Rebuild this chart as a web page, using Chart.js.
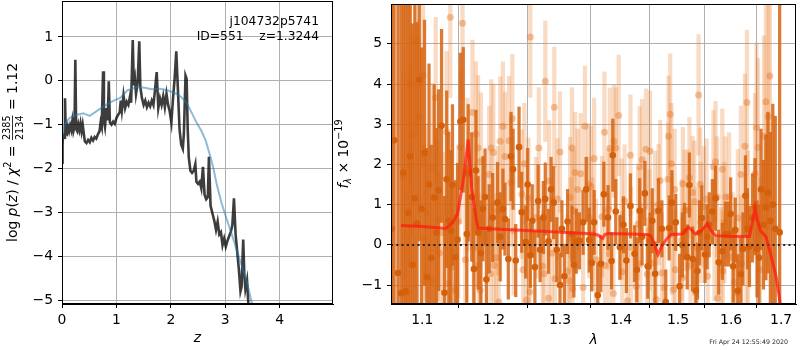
<!DOCTYPE html>
<html>
<head>
<meta charset="utf-8">
<script src="https://cdn.jsdelivr.net/npm/chart.js@4.4.1/dist/chart.umd.min.js"></script>
<style>
    body { margin: 0; background: #fff; width: 800px; height: 350px; overflow: hidden; position: relative; }
    #pzBox { position: absolute; left: 0; top: 0; width: 336px; height: 350px; }
    #specBox { position: absolute; left: 330px; top: 0; width: 470px; height: 350px; }
</style>
</head>
<body>
<div id="pzBox"><canvas id="pzChart" width="336" height="350"></canvas></div>
<div id="specBox"><canvas id="specChart" width="470" height="350"></canvas></div>
<script>
// ---- left panel: log p(z) ----
const pzZ = [0.00, 0.01, 0.02, 0.04, 0.055, 0.07, 0.09, 0.11, 0.13, 0.15,
    0.17, 0.19, 0.21, 0.23, 0.245, 0.26, 0.28, 0.30, 0.32, 0.34,
    0.36, 0.38, 0.40, 0.42, 0.45, 0.48, 0.51, 0.54, 0.57, 0.60,
    0.63, 0.66, 0.69, 0.71, 0.73, 0.755, 0.77, 0.79, 0.82, 0.84,
    0.86, 0.88, 0.91, 0.94, 0.97, 1.00, 1.03, 1.06, 1.08, 1.10,
    1.13, 1.16, 1.19, 1.22, 1.25, 1.27, 1.30, 1.32, 1.34, 1.36,
    1.39, 1.42, 1.44, 1.47, 1.50, 1.53, 1.56, 1.59, 1.62, 1.65,
    1.68, 1.71, 1.74, 1.77, 1.80, 1.83, 1.86, 1.89, 1.92, 1.95,
    1.98, 2.01, 2.04, 2.07, 2.10, 2.13, 2.16, 2.19, 2.22, 2.24,
    2.27, 2.29, 2.31, 2.33, 2.36, 2.39, 2.42, 2.45, 2.47, 2.50,
    2.53, 2.56, 2.59, 2.62, 2.65, 2.68, 2.70, 2.73, 2.77, 2.80,
    2.83, 2.86, 2.89, 2.92, 2.95, 2.98, 3.01, 3.04, 3.07, 3.10,
    3.13, 3.16, 3.19, 3.22, 3.25, 3.28, 3.30, 3.33, 3.35, 3.37,
    3.40, 3.43];
const pzLog = [-1.87, -1.45, -1.25, -1.30, -0.40, -1.20, -1.22, -1.05, -1.15, -1.02,
    -1.12, -0.92, -1.15, -1.05, 0.48, -1.10, -1.15, -1.00, -1.12, -0.97,
    -1.15, -1.00, -1.20, -1.38, -1.42, -1.35, -1.40, -1.30, -1.36, -1.28,
    -1.32, -1.22, -1.15, -0.95, -1.05, 0.22, -0.90, -1.05, -0.62, -0.90,
    -0.01, -0.95, -1.00, -0.93, -0.98, -0.85, -0.78, -0.72, -0.45, -0.68,
    -0.33, -0.62, -0.48, -0.55, -0.35, -0.50, 0.93, -0.10, 0.05, -0.30,
    -0.05, 0.90, -0.15, -0.40, -0.55, -0.45, -0.60, -0.50, -0.58, -0.45,
    -0.55, -0.20, 0.20, -0.62, -0.40, -0.55, -0.35, -0.60, -0.30, -0.55,
    -0.70, -0.95, -0.40, 0.05, 0.67, -0.20, -1.10, -1.45, -1.55, -1.20,
    0.12, 0.05, -1.10, -1.75, -2.05, -2.10, -2.05, -1.90, -2.30, -2.35,
    -2.30, -2.45, -1.96, -2.60, -2.70, -2.65, -1.73, -2.85, -3.05, -3.20,
    -3.40, -3.21, -3.50, -3.45, -3.75, -3.60, -3.78, -3.65, -3.55, -3.45,
    -3.30, -2.68, -3.50, -3.90, -4.30, -4.80, -4.70, -3.62, -4.40, -4.75,
    -4.55, -5.20];
const pzSmoothZ = [0.00, 0.04, 0.08, 0.15, 0.26, 0.39, 0.51, 0.65, 0.76, 0.88,
    0.97, 1.07, 1.20, 1.37, 1.52, 1.65, 1.80, 1.95, 2.11, 2.20,
    2.29, 2.38, 2.48, 2.56, 2.64, 2.72, 2.78, 2.84, 2.93, 3.03,
    3.12, 3.21, 3.30, 3.40, 3.49, 3.55];
const pzSmoothLog = [-1.30, -1.05, -0.93, -0.84, -0.78, -0.74, -0.80, -0.68, -0.59, -0.50,
    -0.44, -0.39, -0.22, -0.14, -0.16, -0.19, -0.18, -0.22, -0.30, -0.38,
    -0.50, -0.72, -0.97, -1.14, -1.36, -1.70, -1.98, -2.34, -2.78, -3.17,
    -3.50, -3.86, -4.20, -4.60, -5.07, -5.30];
const pzXTicks = [0, 1, 2, 3, 4];
const pzYTicks = [-5, -4, -3, -2, -1, 0, 1];
const pzXRange = [0, 4.98];
const pzYRange = [-5.09, 1.82];

// ---- right panel: spectrum ----
const darkWave = [1.060, 1.063, 1.068, 1.072, 1.075, 1.078, 1.081, 1.084, 1.087, 1.090,
    1.093, 1.096, 1.099, 1.103, 1.106, 1.109, 1.112, 1.116, 1.119, 1.122,
    1.126, 1.130, 1.133, 1.136, 1.139, 1.141, 1.145, 1.148, 1.152, 1.156,
    1.161, 1.163, 1.168, 1.171, 1.174, 1.177, 1.181, 1.184, 1.187, 1.189,
    1.193, 1.198, 1.205, 1.209, 1.213, 1.216, 1.221, 1.225, 1.228, 1.232,
    1.237, 1.241, 1.247, 1.250, 1.254, 1.257, 1.261, 1.266, 1.269, 1.274,
    1.277, 1.282, 1.286, 1.290, 1.295, 1.300, 1.303, 1.307, 1.312, 1.319,
    1.322, 1.326, 1.331, 1.337, 1.342, 1.347, 1.351, 1.355, 1.361, 1.366,
    1.371, 1.378, 1.384, 1.386, 1.391, 1.398, 1.404, 1.409, 1.416, 1.423,
    1.427, 1.432, 1.436, 1.441, 1.446, 1.450, 1.454, 1.459, 1.465, 1.471,
    1.478, 1.484, 1.489, 1.496, 1.503, 1.508, 1.512, 1.517, 1.521, 1.527,
    1.533, 1.536, 1.540, 1.544, 1.550, 1.554, 1.558, 1.564, 1.570, 1.576,
    1.583, 1.589, 1.595, 1.599, 1.604, 1.608, 1.613, 1.619, 1.623, 1.628,
    1.632, 1.636, 1.642, 1.647, 1.651, 1.655, 1.659, 1.664, 1.669, 1.673,
    1.678, 1.683, 1.688, 1.697];
const darkFlux = [0.40, 2.60, -0.70, -1.20, 1.80, -1.15, 0.80, 2.20, -0.50, 1.16,
    0.53, 4.10, 0.90, 2.29, -0.80, 1.50, -0.32, 1.18, 0.30, 1.36,
    2.96, -1.19, 1.63, 0.60, 0.35, 1.49, -0.30, 0.13, 3.07, 3.11,
    0.27, 1.79, 1.19, -0.60, 1.85, 0.30, -0.20, 0.90, 1.19, -0.86,
    0.40, 0.68, 1.05, 0.20, 0.89, 0.64, -0.35, 2.20, 1.88, -0.39,
    2.43, 0.81, 0.07, 1.50, -0.26, 0.60, -0.55, 1.09, -0.12, 0.68,
    1.14, 0.09, 1.38, 1.05, -0.12, -1.00, 0.40, -0.78, 0.58, 0.27,
    -0.50, 0.09, 0.10, 0.56, 1.38, 0.12, -0.45, 0.56, -1.25, -0.47,
    1.26, 0.68, -0.40, 2.23, 0.83, -0.06, 0.50, -0.39, 0.97, -0.22,
    -0.62, 0.85, 0.20, 1.28, -0.53, 0.10, 0.60, -0.72, 0.85, 0.40,
    -1.42, 0.42, 1.05, 0.56, -1.03, 0.00, 0.34, -0.30, 1.49, -0.35,
    -1.14, -0.65, 0.30, 0.67, -0.24, 0.20, 0.50, 0.83, 1.16, -0.43,
    -0.16, 0.27, 0.27, 0.77, -0.53, 0.37, -1.14, -0.73, -0.10, 1.22,
    0.40, -0.04, 0.67, 0.95, -0.10, -0.32, 1.38, 0.50, 0.93, 1.30,
    0.60, 1.00, 0.40, 0.31];
const darkErr = [9.0, 9.0, 9.0, 9.0, 9.0, 9.0, 7.0, 6.0, 6.0, 5.0,
    5.0, 4.0, 4.0, 3.3, 3.2, 3.0, 2.8, 2.8, 2.6, 2.5,
    2.4, 2.4, 2.2, 2.2, 2.0, 2.0, 1.9, 1.9, 1.7, 1.8,
    1.7, 1.7, 1.6, 1.5, 1.5, 1.4, 1.3, 1.3, 1.2, 1.2,
    1.1, 1.1, 1.0, 1.1, 1.0, 0.9, 1.0, 1.1, 1.0, 0.9,
    1.0, 1.0, 0.9, 0.9, 0.8, 0.9, 0.9, 0.9, 0.8, 0.9,
    0.9, 0.8, 0.8, 0.9, 0.8, 0.8, 0.7, 0.8, 0.8, 0.7,
    0.8, 0.8, 0.7, 0.8, 0.8, 0.8, 0.7, 0.8, 0.8, 0.7,
    0.8, 0.8, 0.7, 0.9, 0.8, 0.8, 0.7, 0.8, 0.8, 0.7,
    0.8, 0.8, 0.7, 0.8, 0.8, 0.7, 0.8, 0.8, 0.8, 0.7,
    0.8, 0.8, 0.8, 0.7, 0.8, 0.8, 0.7, 0.8, 0.8, 0.8,
    0.8, 0.7, 0.8, 0.8, 0.7, 0.8, 0.8, 0.8, 0.8, 0.8,
    0.7, 0.8, 0.8, 0.9, 0.9, 0.8, 0.9, 0.9, 0.9, 1.0,
    1.0, 1.0, 1.1, 1.2, 1.2, 1.3, 1.5, 1.6, 1.8, 2.0,
    2.2, 2.5, 2.8, 9.0];
const lightWave = [1.075, 1.080, 1.083, 1.084, 1.086, 1.092, 1.095, 1.101, 1.102, 1.105,
    1.113, 1.114, 1.118, 1.121, 1.123, 1.128, 1.133, 1.135, 1.138, 1.140,
    1.145, 1.149, 1.152, 1.155, 1.159, 1.162, 1.169, 1.171, 1.174, 1.177,
    1.178, 1.180, 1.181, 1.193, 1.195, 1.196, 1.199, 1.200, 1.203, 1.206,
    1.207, 1.209, 1.213, 1.216, 1.222, 1.225, 1.227, 1.229, 1.241, 1.243,
    1.245, 1.248, 1.251, 1.252, 1.253, 1.254, 1.263, 1.267, 1.273, 1.275,
    1.277, 1.282, 1.283, 1.287, 1.291, 1.292, 1.296, 1.300, 1.312, 1.315,
    1.316, 1.317, 1.319, 1.320, 1.322, 1.324, 1.328, 1.333, 1.337, 1.340,
    1.346, 1.347, 1.350, 1.352, 1.355, 1.358, 1.368, 1.372, 1.373, 1.379,
    1.380, 1.381, 1.387, 1.388, 1.391, 1.396, 1.401, 1.402, 1.406, 1.411,
    1.416, 1.417, 1.426, 1.429, 1.432, 1.433, 1.436, 1.443, 1.445, 1.449,
    1.450, 1.455, 1.459, 1.461, 1.465, 1.468, 1.471, 1.475, 1.482, 1.483,
    1.486, 1.488, 1.489, 1.492, 1.494, 1.495, 1.507, 1.508, 1.509, 1.512,
    1.518, 1.521, 1.523, 1.527, 1.530, 1.532, 1.535, 1.538, 1.541, 1.542,
    1.548, 1.553, 1.555, 1.566, 1.568, 1.570, 1.573, 1.574, 1.581, 1.583,
    1.584, 1.587, 1.589, 1.596, 1.603, 1.606, 1.611, 1.613, 1.619, 1.620,
    1.627, 1.630, 1.631, 1.633, 1.647, 1.650, 1.653, 1.657, 1.665, 1.669,
    1.674, 1.677];
const lightFlux = [1.69, -1.17, 4.02, 1.96, 2.74, 5.07, 3.19, 4.22, 0.17, 0.81,
    -0.88, 1.92, 3.66, 0.62, -0.20, 0.30, 2.81, -0.96, 5.66, -0.55,
    -1.13, 0.58, 2.43, 5.51, -0.37, 1.75, 3.29, -0.07, 2.76, 2.41,
    -0.51, -1.13, 2.08, 1.75, -0.72, 2.41, 2.30, -0.51, -0.32, 0.85,
    -1.42, 2.58, 2.95, 2.20, 2.59, 1.55, 3.14, 0.35, 1.26, -0.62,
    2.02, -1.37, 1.16, -0.06, -1.17, 5.17, 0.68, 2.41, -0.53, -0.72,
    4.07, -1.33, 1.59, -0.21, 3.42, -0.84, 1.14, 2.31, -0.65, -0.90,
    1.18, 0.17, 2.41, -1.09, 0.85, 1.80, 1.38, 1.77, -1.06, 2.95,
    1.51, 0.68, 1.45, 0.27, 2.15, -0.37, 0.70, 2.80, -0.51, 0.89,
    -0.22, 2.40, -1.21, 2.58, 2.41, 3.22, 0.64, -0.67, 1.09, -1.39,
    2.23, -0.06, -1.03, 0.52, 1.94, -0.47, 2.12, 2.38, -0.73, 0.37,
    2.33, -0.45, 0.83, -1.36, 1.00, 1.60, -0.70, -1.06, 1.63, 2.70,
    3.25, 2.02, 0.26, -1.11, 1.38, -0.62, 0.12, -0.81, 1.52, 0.86,
    0.86, 1.67, -0.51, 1.30, 1.08, -1.19, -0.06, 3.73, 1.51, 0.56,
    0.95, 1.14, -0.78, 1.94, 0.11, 2.07, 1.19, -1.33, -0.47, 1.88,
    -0.65, 0.56, 1.19, 1.19, -0.30, -0.93, -1.19, 0.67, 1.75, -0.47,
    2.45, -0.06, 3.54, 0.44, 1.77, 2.92, 2.43, -0.62, 2.70, 3.56,
    3.19, 4.20];
const lightErr = [2.6, 2.6, 2.6, 2.5, 2.5, 2.4, 2.4, 2.3, 2.3, 2.2,
    2.1, 2.1, 2.0, 2.0, 2.0, 2.0, 2.0, 2.0, 2.0, 2.0,
    1.9, 1.9, 1.9, 1.9, 1.9, 1.9, 1.8, 1.8, 1.8, 1.8,
    1.8, 1.8, 1.7, 1.7, 1.7, 1.7, 1.7, 1.6, 1.6, 1.6,
    1.6, 1.6, 1.6, 1.6, 1.6, 1.6, 1.6, 1.6, 1.6, 1.6,
    1.5, 1.5, 1.5, 1.5, 1.5, 1.5, 1.5, 1.5, 1.4, 1.5,
    1.5, 1.5, 1.5, 1.4, 1.5, 1.5, 1.5, 1.5, 1.4, 1.5,
    1.5, 1.5, 1.5, 1.4, 1.5, 1.5, 1.5, 1.5, 1.4, 1.5,
    1.5, 1.5, 1.5, 1.4, 1.5, 1.5, 1.5, 1.5, 1.4, 1.5,
    1.5, 1.5, 1.5, 1.4, 1.5, 1.5, 1.5, 1.5, 1.4, 1.5,
    1.5, 1.5, 1.5, 1.4, 1.5, 1.5, 1.5, 1.5, 1.4, 1.5,
    1.5, 1.5, 1.5, 1.4, 1.5, 1.5, 1.5, 1.5, 1.4, 1.5,
    1.5, 1.5, 1.5, 1.4, 1.5, 1.5, 1.5, 1.5, 1.4, 1.5,
    1.5, 1.5, 1.5, 1.4, 1.5, 1.5, 1.5, 1.5, 1.4, 1.5,
    1.5, 1.5, 1.5, 1.4, 1.5, 1.5, 1.5, 1.5, 1.4, 1.5,
    1.5, 1.5, 1.5, 1.6, 1.6, 1.6, 1.6, 1.7, 1.7, 1.7,
    1.8, 1.8, 1.8, 1.9, 2.0, 2.1, 2.2, 2.3, 2.5, 2.6,
    2.8, 3.0];
const modelWave = [1.072, 1.100, 1.132, 1.141, 1.148, 1.156, 1.163, 1.168, 1.174, 1.177,
    1.194, 1.280, 1.355, 1.362, 1.369, 1.373, 1.380, 1.446, 1.452, 1.458,
    1.464, 1.472, 1.481, 1.488, 1.508, 1.519, 1.526, 1.532, 1.544, 1.554,
    1.562, 1.570, 1.600, 1.636, 1.641, 1.647, 1.652, 1.658, 1.669, 1.675,
    1.690, 1.700];
const modelFlux = [0.48, 0.46, 0.41, 0.55, 0.77, 1.59, 2.62, 1.42, 0.68, 0.42,
    0.40, 0.33, 0.27, 0.24, 0.16, 0.26, 0.28, 0.26, 0.22, 0.00,
    -0.24, 0.00, 0.17, 0.26, 0.27, 0.44, 0.36, 0.27, 0.36, 0.53,
    0.35, 0.23, 0.21, 0.21, 0.50, 0.91, 0.60, 0.35, 0.20, -0.06,
    -0.80, -1.60];
const specXTicks = [1.1, 1.2, 1.3, 1.4, 1.5, 1.6, 1.7];
const specYTicks = [-1, 0, 1, 2, 3, 4, 5];
const specXRange = [1.059, 1.731];
const specYRange = [-1.47, 5.99];

const FONT = 'DejaVu Sans';
Chart.defaults.font.family = FONT;
Chart.defaults.font.size = 13.9;
Chart.defaults.color = '#000';
Chart.defaults.animation = false;

function minus(v) {
    return String(v).replace('-', '\u2212');
}

function axisOpts(range, ticks, fitSide, fitSize, fmt) {
    return {
        min: range[0],
        max: range[1],
        afterBuildTicks: s => { s.ticks = ticks.map(v => ({ value: v })); },
        afterFit: s => {
            s[fitSide] = fitSize;
            // keep tick labels from pushing the plot area around
            s.paddingTop = 0; s.paddingBottom = 0; s.paddingLeft = 0; s.paddingRight = 0;
        },
        ticks: { padding: fitSide === 'height' ? 4 : 5, callback: fmt, autoSkip: false, maxRotation: 0 },
        grid: { color: '#b0b0b0', lineWidth: 1, tickColor: '#000', tickLength: 4 },
        border: { display: true, color: '#000', width: 1 }
    };
}

// draw a run of text pieces (with sub/superscripts and a stacked fraction)
function drawRuns(ctx, runs, cx, cy, rotate) {
    ctx.save();
    ctx.translate(cx, cy);
    if (rotate) ctx.rotate(-Math.PI / 2);
    ctx.fillStyle = '#000';
    ctx.textBaseline = 'alphabetic';
    let total = 0;
    runs.forEach(r => {
        ctx.font = r.font;
        if (r.frac) {
            r.w = Math.max(ctx.measureText(r.frac[0]).width, ctx.measureText(r.frac[1]).width) + 2;
        } else {
            r.w = ctx.measureText(r.t).width;
        }
        total += r.w;
    });
    let x = -total / 2;
    runs.forEach(r => {
        ctx.font = r.font;
        if (r.frac) {
            ctx.textAlign = 'center';
            ctx.fillText(r.frac[0], x + r.w / 2, -6.5);
            ctx.fillText(r.frac[1], x + r.w / 2, 6.5);
            ctx.fillRect(x + 1, -4.6, r.w - 2, 0.8);
        } else {
            ctx.textAlign = 'left';
            ctx.fillText(r.t, x, r.dy || 0);
        }
        x += r.w;
    });
    ctx.restore();
}

const framePlugin = {
    id: 'frame',
    afterDatasetsDraw(chart) {
        const a = chart.chartArea;
        const ctx = chart.ctx;
        ctx.save();
        ctx.strokeStyle = '#000';
        ctx.lineWidth = 1;
        ctx.strokeRect(Math.round(a.left) + 0.5, Math.round(a.top) + 0.5,
            Math.round(a.right - a.left) - 1, Math.round(a.bottom - a.top) - 1);
        ctx.restore();
    }
};

const N = `13.9px "${FONT}"`;
const I = `italic 13.9px "${FONT}"`;
const S = `9.7px "${FONT}"`;
const SI = `italic 9.7px "${FONT}"`;

const pzText = {
    id: 'pzText',
    afterDraw(chart) {
        const ctx = chart.ctx;
        const a = chart.chartArea;
        drawRuns(ctx, [
            { t: 'log ', font: N }, { t: 'p', font: I }, { t: '(', font: N }, { t: 'z', font: I },
            { t: ') / ', font: N }, { t: '\u03c7', font: I }, { t: '2', font: S, dy: -6 },
            { t: ' = ', font: N }, { frac: ['2385', '2134'], font: S }, { t: ' = 1.12', font: N }
        ], 16.7, (a.top + a.bottom) / 2, true);
        drawRuns(ctx, [{ t: 'z', font: I }], (a.left + a.right) / 2, 342, false);
        ctx.save();
        ctx.font = `12.3px "${FONT}"`;
        ctx.textAlign = 'right';
        ctx.fillStyle = '#000';
        ctx.fillText('j104732p5741', 319, 25);
        ctx.fillText('ID=551    z=1.3244', 319, 39.5);
        ctx.restore();
    }
};

const specText = {
    id: 'specText',
    afterDraw(chart) {
        const ctx = chart.ctx;
        const a = chart.chartArea;
        drawRuns(ctx, [
            { t: 'f', font: I }, { t: '\u03bb', font: SI, dy: 3 }, { t: ' \u00d7 10', font: N },
            { t: '\u221219', font: S, dy: -6 }
        ], 18.3, (a.top + a.bottom) / 2, true);
        drawRuns(ctx, [{ t: '\u03bb', font: I }], (a.left + a.right) / 2, 344, false);
        ctx.save();
        ctx.font = `6.3px "${FONT}"`;
        ctx.textAlign = 'right';
        ctx.fillStyle = '#222';
        ctx.fillText('Fri Apr 24 12:55:49 2020', 458, 343.5);
        ctx.restore();
    }
};

function createPzChart() {
    const ctx = document.getElementById('pzChart').getContext('2d');
    return new Chart(ctx, {
        type: 'scatter',
        data: {
            datasets: [{
                data: pzSmoothZ.map((z, i) => ({ x: z, y: pzSmoothLog[i] })),
                showLine: true,
                borderColor: 'rgba(31,119,180,0.5)',
                borderWidth: 2,
                pointRadius: 0,
                tension: 0,
                clip: 0
            }, {
                data: pzZ.map((z, i) => ({ x: z, y: pzLog[i] })),
                showLine: true,
                borderColor: 'rgba(0,0,0,0.76)',
                borderWidth: 2.6,
                pointRadius: 0,
                tension: 0,
                clip: 0
            }]
        },
        options: {
            responsive: false,
            events: [],
            layout: { padding: { left: 0, right: 3, top: 1, bottom: 0 } },
            plugins: { legend: { display: false }, tooltip: { enabled: false } },
            scales: {
                x: Object.assign({ type: 'linear' }, axisOpts(pzXRange, pzXTicks, 'height', 46, v => minus(v))),
                y: Object.assign({ type: 'linear' }, axisOpts(pzYRange, pzYTicks, 'width', 62, v => minus(v)))
            }
        },
        plugins: [framePlugin, pzText]
    });
}

function createSpecChart() {
    const ctx = document.getElementById('specChart').getContext('2d');
    const errBars = (w, f, e) => w.map((x, i) => ({ x: x, y: [f[i] - e[i], f[i] + e[i]] }));
    return new Chart(ctx, {
        type: 'scatter',
        data: {
            datasets: [{
                data: modelWave.map((x, i) => ({ x: x, y: modelFlux[i] })),
                showLine: true,
                borderColor: 'rgba(255,25,15,0.72)',
                borderWidth: 3,
                pointRadius: 0,
                tension: 0,
                clip: 0
            }, {
                data: specXRange.map(x => ({ x: x, y: 0 })),
                showLine: true,
                borderColor: '#222',
                borderWidth: 2,
                borderDash: [2, 3.3],
                pointRadius: 0,
                clip: 0
            }, {
                data: darkWave.map((x, i) => ({ x: x, y: darkFlux[i] })),
                backgroundColor: 'rgb(212,96,12)',
                borderWidth: 0,
                pointRadius: 3.3,
                clip: 0
            }, {
                type: 'bar',
                data: errBars(darkWave, darkFlux, darkErr),
                backgroundColor: 'rgba(214,100,18,0.85)',
                barThickness: 2.6,
                grouped: false,
                borderWidth: 0,
                clip: 0
            }, {
                data: lightWave.map((x, i) => ({ x: x, y: lightFlux[i] })),
                backgroundColor: 'rgba(228,118,40,0.42)',
                borderWidth: 0,
                pointRadius: 3.5,
                clip: 0
            }, {
                type: 'bar',
                data: errBars(lightWave, lightFlux, lightErr),
                backgroundColor: 'rgba(232,124,44,0.28)',
                barThickness: 3.6,
                grouped: false,
                borderWidth: 0,
                clip: 0
            }]
        },
        options: {
            responsive: false,
            events: [],
            layout: { padding: { left: 0, right: 1, top: 1, bottom: 0 } },
            plugins: { legend: { display: false }, tooltip: { enabled: false } },
            scales: {
                x: Object.assign({ type: 'logarithmic', offset: false }, axisOpts(specXRange, specXTicks, 'height', 46, v => Number(v).toFixed(1))),
                y: Object.assign({ type: 'linear', stacked: false }, axisOpts(specYRange, specYTicks, 'width', 61, v => minus(v)))
            }
        },
        plugins: [framePlugin, specText]
    });
}

createPzChart();
createSpecChart();
</script>
</body>
</html>
